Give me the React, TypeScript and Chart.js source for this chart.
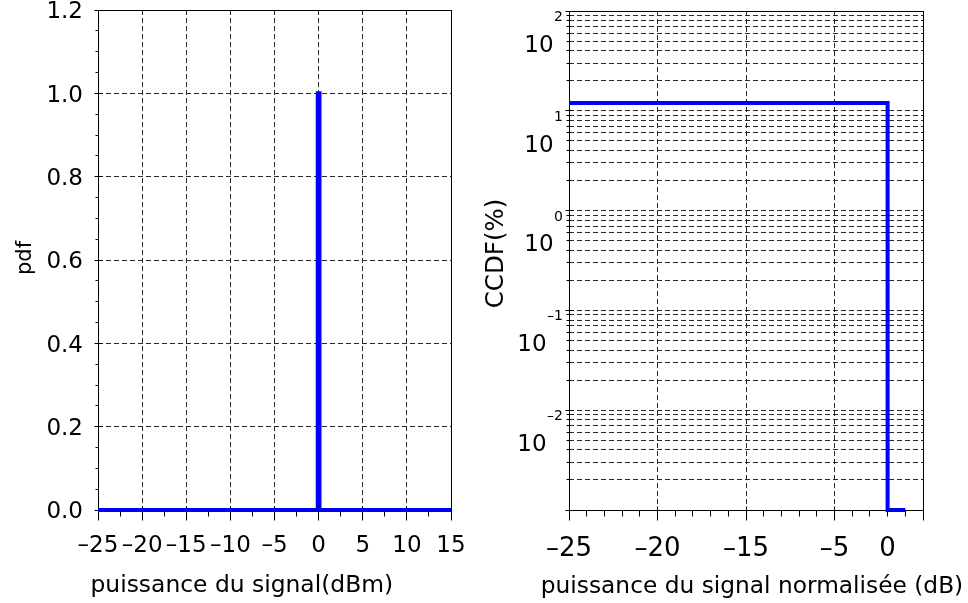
import React, { useEffect, useRef } from 'react';
import { Chart, registerables } from 'chart.js';

Chart.register(...registerables);

// ---- Left panel: probability density of the signal power ----
const PDF_X = [-25, -0.1, -0.1, 0.1, 0.1, 15];
const PDF_Y = [0, 0, 1, 1, 0, 0];
const PDF_X_TICKS = [-25, -20, -15, -10, -5, 0, 5, 10, 15];
const PDF_X_LABELS = ['–25', '–20', '–15', '–10', '–5', '0', '5', '10', '15'];
const PDF_Y_TICKS = [0, 0.2, 0.4, 0.6, 0.8, 1.0, 1.2];
const PDF_Y_LABELS = ['0.0', '0.2', '0.4', '0.6', '0.8', '1.0', '1.2'];

// ---- Right panel: CCDF of the normalised signal power ----
const CCDF_X = [-25, -7, -7, -6];
const CCDF_Y = [12, 12, 0.001, 0.001];
const CCDF_X_TICKS = [-25, -20, -15, -10, -5];
const CCDF_X_LABEL_POS = [-25, -20, -15, -10, -7];
const CCDF_X_LABELS = ['–25', '–20', '–15', '–5', '0'];
const CCDF_DECADES = [-3, -2, -1, 0, 1];
const CCDF_LABEL_DECADES = [2, 1, 0, -1, -2];
const CCDF_EXPONENT_LABELS = ['2', '1', '0', '–1', '–2'];

const FONT_FAMILY = "'DejaVu Sans', 'Liberation Sans', sans-serif";
const font = (px: number) => `${px}px ${FONT_FAMILY}`;
const BLUE = '#0000ff';
const GRID = '#2a2a2a';

// every 1..9 x 10^k line of the log axis, up to the top decade
const LOG_GRID: number[] = [];
CCDF_DECADES.forEach((k) => {
  for (let m = 1; m <= 9; m++) LOG_GRID.push(Number((m * Math.pow(10, k)).toPrecision(3)));
});
LOG_GRID.push(100);

const crisp = (v: number) => Math.round(v - 0.5) + 0.5;

function seg(ctx: CanvasRenderingContext2D, x1: number, y1: number, x2: number, y2: number) {
  ctx.beginPath();
  ctx.moveTo(x1, y1);
  ctx.lineTo(x2, y2);
  ctx.stroke();
}

function subdivide(ticks: number[], parts: number) {
  const out: number[] = [];
  for (let i = 0; i < ticks.length - 1; i++) {
    for (let k = 1; k < parts; k++) out.push(ticks[i] + ((ticks[i + 1] - ticks[i]) * k) / parts);
  }
  return out;
}

function drawFrame(chart: any) {
  const { ctx, chartArea: a } = chart;
  ctx.save();
  ctx.strokeStyle = '#000';
  ctx.lineWidth = 1;
  const l = crisp(a.left), r = crisp(a.right), t = crisp(a.top), b = crisp(a.bottom);
  ctx.strokeRect(l, t, r - l, b - t);
  ctx.restore();
}

const gridScale = (ticks: number[]) => ({
  afterBuildTicks: (s: any) => {
    s.ticks = ticks.map((v) => ({ value: v }));
  },
  ticks: { display: false },
  grid: { drawTicks: false, color: GRID, lineWidth: 1 },
  border: { display: false, dash: [5, 3] },
  title: { display: false },
});

const pdfDecor = {
  id: 'pdfDecor',
  beforeDatasetsDraw(chart: any) {
    const { ctx, chartArea: a, scales } = chart;
    const xs = scales.x, ys = scales.y;
    drawFrame(chart);
    ctx.save();
    ctx.strokeStyle = '#000';
    ctx.lineWidth = 1;
    const b = crisp(a.bottom), l = crisp(a.left);
    PDF_X_TICKS.forEach((v) => {
      const x = crisp(xs.getPixelForValue(v));
      seg(ctx, x, b - 4, x, b + 10);
    });
    subdivide(PDF_X_TICKS, 2).forEach((v) => {
      const x = crisp(xs.getPixelForValue(v));
      seg(ctx, x, b, x, b + 6);
    });
    PDF_Y_TICKS.forEach((v) => {
      const y = crisp(ys.getPixelForValue(v));
      seg(ctx, l - 4, y, l + 4, y);
    });
    subdivide(PDF_Y_TICKS, 4).forEach((v) => {
      const y = crisp(ys.getPixelForValue(v));
      seg(ctx, l - 3, y, l, y);
    });
    ctx.restore();
  },
  afterDraw(chart: any) {
    const { ctx, chartArea: a, scales } = chart;
    const xs = scales.x, ys = scales.y;
    ctx.save();
    ctx.fillStyle = '#000';
    ctx.font = font(23);
    ctx.textBaseline = 'alphabetic';
    ctx.textAlign = 'right';
    PDF_Y_TICKS.forEach((v, i) => {
      ctx.fillText(PDF_Y_LABELS[i], a.left - 15, ys.getPixelForValue(v) + 0.3645 * 23);
    });
    ctx.textAlign = 'center';
    PDF_X_TICKS.forEach((v, i) => {
      ctx.fillText(PDF_X_LABELS[i], xs.getPixelForValue(v), a.bottom + 41.5);
    });
    ctx.textAlign = 'left';
    ctx.font = font(23.4);
    ctx.fillText('puissance du signal(dBm)', a.left - 7.5, a.bottom + 81.5);
    ctx.translate(25, (a.top + a.bottom) / 2 - 2);
    ctx.rotate(-Math.PI / 2);
    ctx.textAlign = 'center';
    ctx.font = font(21);
    ctx.fillText('pdf', 0, 0.262 * 21);
    ctx.restore();
  },
};

const ccdfDecor = {
  id: 'ccdfDecor',
  beforeDatasetsDraw(chart: any) {
    const { ctx, chartArea: a, scales } = chart;
    const xs = scales.x, ys = scales.y;
    drawFrame(chart);
    ctx.save();
    ctx.strokeStyle = '#000';
    ctx.lineWidth = 1;
    const b = crisp(a.bottom), l = crisp(a.left);
    CCDF_X_TICKS.forEach((v) => {
      const x = crisp(xs.getPixelForValue(v));
      seg(ctx, x, b - 4, x, b + 10);
    });
    subdivide(CCDF_X_TICKS, 5).forEach((v) => {
      const x = crisp(xs.getPixelForValue(v));
      seg(ctx, x, b, x, b + 6);
    });
    LOG_GRID.forEach((v) => {
      const y = crisp(ys.getPixelForValue(v));
      const major = Math.abs(Math.log10(v) - Math.round(Math.log10(v))) < 1e-9;
      if (major) seg(ctx, l - 4, y, l + 3, y);
      else seg(ctx, l - 3, y, l + 1, y);
    });
    ctx.restore();
  },
  afterDraw(chart: any) {
    const { ctx, chartArea: a, scales } = chart;
    const xs = scales.x, ys = scales.y;
    ctx.save();
    ctx.fillStyle = '#000';
    ctx.textBaseline = 'alphabetic';
    // y labels: 10 with a raised exponent
    CCDF_LABEL_DECADES.forEach((k, i) => {
      const y = ys.getPixelForValue(Math.pow(10, k));
      const ex = a.left - 6;
      ctx.font = font(14);
      ctx.textAlign = 'right';
      const exp = CCDF_EXPONENT_LABELS[i];
      ctx.fillText(exp, ex, y + 10);
      const w = ctx.measureText(exp).width;
      ctx.font = font(23);
      ctx.fillText('10', ex - w - 0.5, y + 40.7);
    });
    ctx.font = font(26);
    ctx.textAlign = 'center';
    CCDF_X_LABEL_POS.forEach((v, i) => {
      ctx.fillText(CCDF_X_LABELS[i], xs.getPixelForValue(v), a.bottom + 46);
    });
    ctx.font = font(23.3);
    ctx.fillText('puissance du signal normalisée (dB)', (a.left + a.right) / 2 + 6, a.bottom + 83);
    ctx.translate(15, (a.top + a.bottom) / 2 - 7);
    ctx.rotate(-Math.PI / 2);
    ctx.font = font(24.5);
    ctx.fillText('CCDF(%)', 0, 0.314 * 24.5);
    ctx.restore();
  },
};

function pdfConfig(): any {
  return {
    type: 'line',
    data: {
      datasets: [
        {
          data: PDF_X.map((x, i) => ({ x, y: PDF_Y[i] })),
          borderColor: BLUE,
          borderWidth: 4,
          pointRadius: 0,
          tension: 0,
          fill: false,
          clip: false,
          borderJoinStyle: 'miter',
        },
      ],
    },
    options: {
      responsive: false,
      animation: false,
      events: [],
      layout: { padding: { left: 98, right: 29, top: 10, bottom: 93 } },
      plugins: { legend: { display: false }, tooltip: { enabled: false } },
      scales: {
        x: { type: 'linear', min: -25, max: 15, ...gridScale(PDF_X_TICKS) },
        y: { type: 'linear', min: 0, max: 1.2, ...gridScale(PDF_Y_TICKS) },
      },
    },
    plugins: [pdfDecor],
  };
}

function ccdfConfig(): any {
  return {
    type: 'line',
    data: {
      datasets: [
        {
          data: CCDF_X.map((x, i) => ({ x, y: CCDF_Y[i] })),
          borderColor: BLUE,
          borderWidth: 4,
          pointRadius: 0,
          tension: 0,
          fill: false,
          clip: false,
          borderJoinStyle: 'miter',
        },
      ],
    },
    options: {
      responsive: false,
      animation: false,
      events: [],
      layout: { padding: { left: 89, right: 45, top: 11, bottom: 93 } },
      plugins: { legend: { display: false }, tooltip: { enabled: false } },
      scales: {
        x: { type: 'linear', min: -25, max: -5, ...gridScale(CCDF_X_TICKS) },
        y: { type: 'logarithmic', min: 0.001, max: 100, ...gridScale(LOG_GRID) },
      },
    },
    plugins: [ccdfDecor],
  };
}

function Panel({ make, left, width }: { make: () => any; left: number; width: number }) {
  const ref = useRef<HTMLCanvasElement>(null);
  useEffect(() => {
    const chart = new Chart(ref.current as HTMLCanvasElement, make());
    return () => chart.destroy();
  }, []);
  return (
    <canvas
      ref={ref}
      width={width}
      height={603}
      style={{ position: 'absolute', left, top: 0, width, height: 603 }}
    />
  );
}

export default function App() {
  return (
    <div style={{ position: 'fixed', left: 0, top: 0, width: 968, height: 603, background: '#fff' }}>
      <Panel make={pdfConfig} left={0} width={480} />
      <Panel make={ccdfConfig} left={480} width={488} />
    </div>
  );
}
